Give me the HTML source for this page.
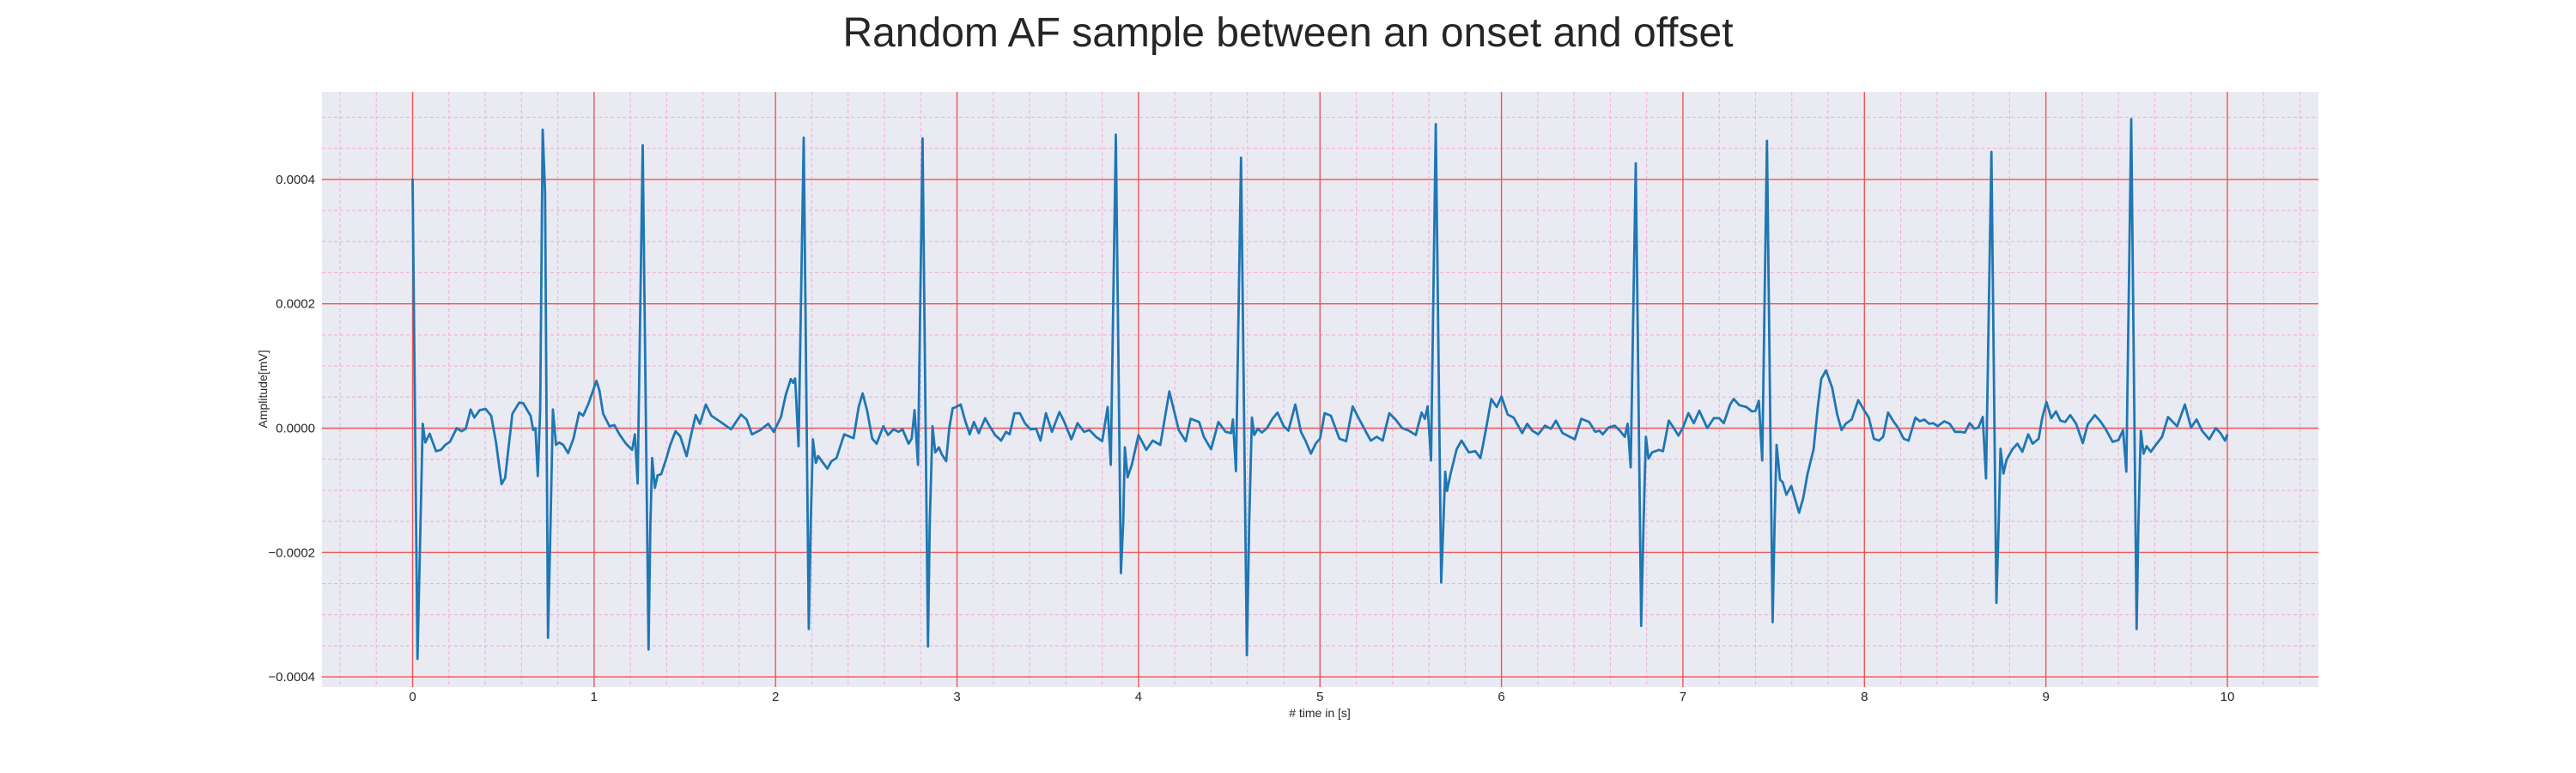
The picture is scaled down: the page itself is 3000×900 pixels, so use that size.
<!DOCTYPE html>
<html><head><meta charset="utf-8"><style>
html,body{margin:0;padding:0;background:#fff;}
svg{display:block;font-family:"Liberation Sans",Arial,sans-serif;}
</style></head><body>
<svg id="chart" width="3000" height="900" viewBox="0 0 3000 900" xmlns="http://www.w3.org/2000/svg">
<text x="1500" y="54" text-anchor="middle" font-size="48" fill="#262626">Random AF sample between an onset and offset</text>
<rect x="375" y="107" width="2325" height="693" fill="#eaeaf2"/>
<g id="grid-minor"></g>
<g id="grid-major"></g>
<g id="series"></g>
<g id="xticks"></g>
<g id="yticks"></g>
<text x="1537" y="835" text-anchor="middle" font-size="14" fill="#262626"># time in [s]</text>
<text transform="translate(311,453) rotate(-90)" text-anchor="middle" font-size="14" fill="#262626">Amplitude[mV]</text>
</svg>
<script>
// time in seconds
const timeS = [0,0.0,0.027,0.056,0.07,0.094,0.129,0.156,0.18,0.206,0.243,0.27,0.293,0.32,0.34,0.37,0.402,0.433,0.46,0.49,0.51,0.55,0.587,0.61,0.636,0.65,0.665,0.677,0.69,0.703,0.717,0.73,0.746,0.76,0.773,0.79,0.808,0.83,0.857,0.886,0.918,0.94,0.97,1.013,1.03,1.05,1.085,1.112,1.14,1.176,1.21,1.225,1.24,1.268,1.3,1.31,1.32,1.335,1.35,1.37,1.4,1.42,1.449,1.475,1.51,1.533,1.56,1.583,1.616,1.646,1.692,1.755,1.81,1.84,1.87,1.916,1.96,1.99,2.03,2.056,2.084,2.097,2.108,2.127,2.155,2.183,2.194,2.206,2.222,2.235,2.262,2.286,2.308,2.336,2.378,2.411,2.43,2.458,2.48,2.505,2.533,2.557,2.594,2.62,2.65,2.677,2.7,2.733,2.75,2.766,2.785,2.81,2.84,2.85,2.865,2.88,2.9,2.916,2.94,2.957,2.976,2.994,3.02,3.043,3.07,3.093,3.12,3.155,3.18,3.21,3.243,3.27,3.29,3.317,3.346,3.374,3.405,3.436,3.46,3.49,3.523,3.564,3.59,3.63,3.664,3.7,3.73,3.766,3.8,3.83,3.847,3.875,3.903,3.916,3.925,3.94,3.963,4.0,4.043,4.078,4.12,4.17,4.222,4.26,4.287,4.334,4.36,4.4,4.44,4.48,4.51,4.52,4.537,4.565,4.597,4.61,4.625,4.638,4.657,4.68,4.708,4.738,4.766,4.8,4.826,4.864,4.895,4.92,4.95,4.978,5.0,5.026,5.06,5.107,5.144,5.18,5.21,5.257,5.28,5.313,5.345,5.382,5.416,5.453,5.49,5.528,5.56,5.578,5.593,5.612,5.638,5.668,5.68,5.69,5.7,5.72,5.753,5.78,5.82,5.856,5.884,5.912,5.944,5.974,6.0,6.034,6.067,6.114,6.142,6.17,6.202,6.24,6.273,6.3,6.337,6.404,6.44,6.483,6.517,6.54,6.558,6.59,6.624,6.652,6.68,6.695,6.712,6.74,6.77,6.783,6.796,6.81,6.83,6.868,6.89,6.922,6.95,6.975,7.0,7.03,7.06,7.09,7.134,7.17,7.2,7.225,7.26,7.28,7.31,7.35,7.38,7.4,7.418,7.437,7.463,7.494,7.505,7.516,7.535,7.55,7.57,7.597,7.616,7.64,7.663,7.687,7.72,7.743,7.762,7.788,7.822,7.85,7.874,7.897,7.93,7.966,8.0,8.024,8.052,8.08,8.103,8.13,8.16,8.187,8.216,8.243,8.281,8.305,8.33,8.356,8.38,8.403,8.44,8.47,8.5,8.53,8.553,8.58,8.606,8.628,8.652,8.67,8.7,8.727,8.74,8.75,8.766,8.783,8.815,8.843,8.87,8.903,8.927,8.96,8.98,9.003,9.03,9.055,9.08,9.106,9.134,9.167,9.203,9.23,9.27,9.3,9.33,9.368,9.4,9.425,9.443,9.47,9.5,9.51,9.523,9.538,9.555,9.578,9.6,9.64,9.673,9.723,9.766,9.8,9.83,9.86,9.9,9.936,9.962,9.987,10.0];
// amplitude in units of 1e-4 mV
const amplitudeE4 = [3.9,4.0,-3.71,0.07,-0.23,-0.09,-0.37,-0.35,-0.27,-0.22,0,-0.05,-0.01,0.3,0.17,0.29,0.31,0.2,-0.23,-0.9,-0.8,0.23,0.41,0.4,0.27,0.2,-0.03,0,-0.77,0.3,4.8,3.78,-3.37,-1.57,0.3,-0.27,-0.23,-0.27,-0.4,-0.17,0.25,0.2,0.4,0.76,0.6,0.23,0.03,0.05,-0.1,-0.25,-0.35,-0.1,-0.89,4.55,-3.56,-1.57,-0.48,-0.96,-0.76,-0.74,-0.47,-0.27,-0.05,-0.13,-0.45,-0.13,0.21,0.07,0.38,0.2,0.11,-0.02,0.22,0.14,-0.1,-0.03,0.07,-0.06,0.18,0.53,0.79,0.73,0.8,-0.29,4.67,-3.23,-1.52,-0.18,-0.56,-0.45,-0.56,-0.65,-0.53,-0.48,-0.1,-0.14,-0.16,0.34,0.56,0.28,-0.17,-0.25,0.03,-0.11,-0.02,-0.06,-0.02,-0.25,-0.17,0.29,-0.59,4.66,-3.51,-1.52,0.03,-0.39,-0.31,-0.42,-0.53,0,0.32,0.34,0.38,0.14,-0.1,0.1,-0.08,0.16,0.03,-0.11,-0.2,-0.06,-0.1,0.24,0.24,0.08,-0.02,-0.01,-0.2,0.24,-0.06,0.26,0.11,-0.18,0.08,-0.06,-0.03,-0.14,-0.21,0.34,-0.59,4.72,-2.33,-1.52,-0.31,-0.79,-0.59,-0.11,-0.35,-0.2,-0.27,0.59,-0.03,-0.21,0.15,0.1,-0.14,-0.34,0.1,-0.06,-0.08,0.14,-0.69,4.35,-3.65,-1.52,0.17,-0.11,-0.01,-0.07,0,0.15,0.25,0.03,-0.04,0.38,-0.06,-0.2,-0.41,-0.24,-0.17,0.24,0.2,-0.17,-0.21,0.35,0.18,-0.08,-0.2,-0.14,-0.2,0.24,0.14,0,-0.04,-0.11,0.25,0.15,0.35,-0.52,4.89,-2.48,-1.52,-0.7,-1.01,-0.73,-0.34,-0.2,-0.39,-0.37,-0.48,-0.06,0.47,0.34,0.51,0.22,0.17,-0.08,0.07,-0.04,-0.1,0.04,-0.01,0.12,-0.08,-0.18,0.15,0.1,-0.06,-0.04,-0.1,0.01,0.04,-0.04,-0.14,0.07,-0.63,4.26,-3.18,-1.52,-0.14,-0.49,-0.39,-0.35,-0.37,0.12,0,-0.12,0.01,0.24,0.08,0.28,0,0.16,0.16,0.08,0.38,0.47,0.37,0.34,0.27,0.28,0.44,-0.52,4.62,-3.12,-1.52,-0.27,-0.83,-0.87,-1.07,-0.93,-1.12,-1.36,-1.12,-0.73,-0.34,0.34,0.79,0.93,0.65,0.22,-0.03,0.07,0.14,0.45,0.28,0.17,-0.17,-0.2,-0.14,0.25,0.11,0,-0.17,-0.2,0.17,0.11,0.14,0.07,0.08,0.03,0.11,0.07,-0.06,-0.06,-0.07,0.08,-0.01,0.01,0.18,-0.81,4.44,-2.81,-1.52,-0.33,-0.73,-0.51,-0.34,-0.25,-0.38,-0.1,-0.25,-0.17,0.17,0.42,0.16,0.27,0.12,0.1,0.21,0.07,-0.24,0.06,0.21,0.11,-0.02,-0.22,-0.19,-0.03,-0.7,4.97,-3.23,-1.52,-0.04,-0.41,-0.29,-0.38,-0.29,-0.14,0.18,0.03,0.38,0.01,0.14,-0.04,-0.18,0,-0.08,-0.2,-0.1];
const xTickLabels = ["0","1","2","3","4","5","6","7","8","9","10"];
const yTickLabels = ["\u22120.0004","\u22120.0002","0.0000","0.0002","0.0004"];
const yTickValues = [-0.0004,-0.0002,0,0.0002,0.0004];

const NS = "http://www.w3.org/2000/svg";
const PL = 375, PR = 2700, PT = 107, PB = 800;
function xs(t){ return 480.5 + t * 211.35; }
function ys(v){ return 498.5 - v * 724000; }
function mk(tag, attrs, parent){ const e = document.createElementNS(NS, tag); for (const k in attrs) e.setAttribute(k, attrs[k]); parent.appendChild(e); return e; }

const gMin = document.getElementById('grid-minor');
const gMaj = document.getElementById('grid-major');
for (let i = -3; i <= 53; i++) {
  const t = i * 0.2; const x = xs(t);
  if (x < PL || x > PR || i % 5 === 0) continue;
  const l = mk('line', {x1:x, x2:x, y1:PT, y2:PB, stroke:'#f2b0dc', 'stroke-width':1.1, 'stroke-dasharray':'4,3'}, gMin);
  
  
}
for (let i = -8; i <= 11; i++) {
  const v = i * 0.00005; const y = ys(v);
  if (y < PT || y > PB || i % 4 === 0) continue;
  const l = mk('line', {x1:PL, x2:PR, y1:y, y2:y, stroke:'#f2b0dc', 'stroke-width':1.1, 'stroke-dasharray':'4,3'}, gMin);
  
  
}
const gx = document.getElementById('xticks');
xTickLabels.forEach(function(lab){
  const x = xs(parseFloat(lab));
  const l = mk('line', {x1:x, x2:x, y1:PT, y2:PB, stroke:'#f05555', 'stroke-width':1.4}, gMaj);
  
  
  const t = mk('text', {x:x, y:816, 'text-anchor':'middle', 'font-size':15, fill:'#262626'}, gx);
  t.textContent = lab;
  
  
});
const gy = document.getElementById('yticks');
yTickValues.forEach(function(v, i){
  const y = ys(v);
  const l = mk('line', {x1:PL, x2:PR, y1:y, y2:y, stroke:'#f05555', 'stroke-width':1.4}, gMaj);
  
  
  const t = mk('text', {x:367, y:y + 5, 'text-anchor':'end', 'font-size':15, fill:'#262626'}, gy);
  t.textContent = yTickLabels[i];
  
  
});
let d = '';
for (let i = 0; i < timeS.length; i++) {
  d += (i ? 'L' : 'M') + xs(timeS[i]).toFixed(1) + ',' + ys(amplitudeE4[i] * 1e-4).toFixed(1);
}
const p = mk('path', {d:d, fill:'none', stroke:'#1f77b4', 'stroke-width':2.8, 'stroke-linejoin':'round'}, document.getElementById('series'));


</script>
</body></html>
